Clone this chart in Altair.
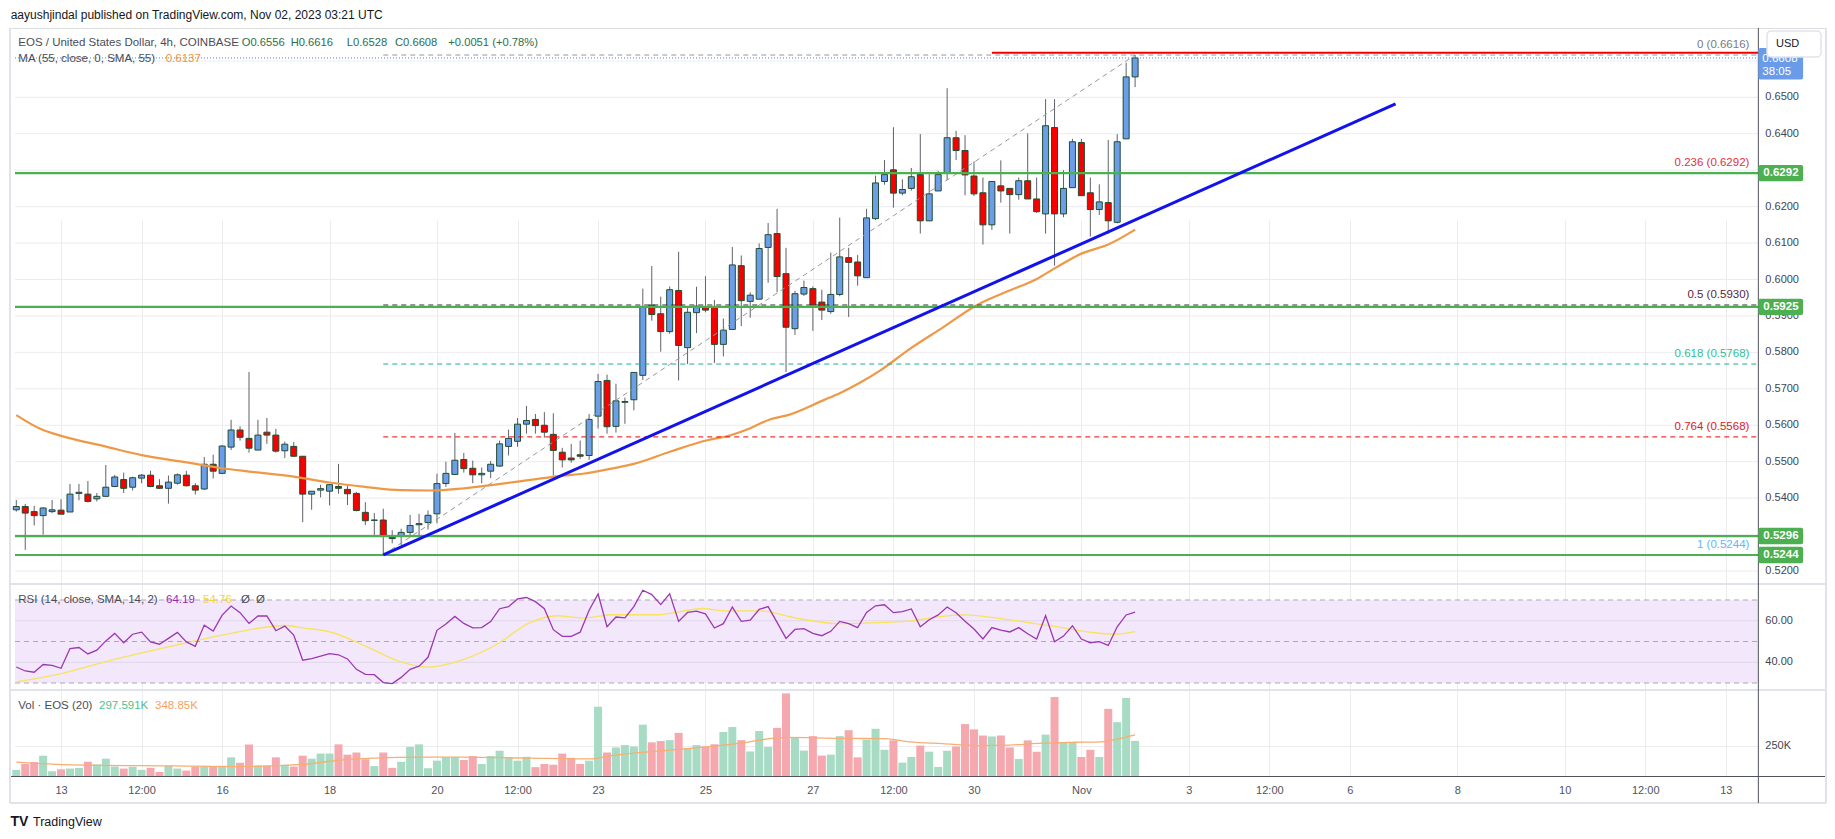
import altair as alt
import pandas as pd

FONT = "Liberation Sans"

# ---------------- data ----------------
# 4h candles, index 1 = 2023-10-12 04:00 UTC ... index 126 = 2023-11-02 00:00 UTC
OPEN = [0.5368,0.5377,0.5363,0.5352,0.5363,0.5367,0.5362,0.5413,0.5411,0.5398,
        0.5405,0.5432,0.5451,0.5430,0.5455,0.5463,0.5434,0.5427,0.5441,0.5463,
        0.5434,0.5425,0.5493,0.5468,0.5540,0.5587,0.5564,0.5532,0.5581,0.5573,
        0.5530,0.5542,0.5515,0.5411,0.5422,0.5419,
        0.5432,0.5424,0.5413,0.5361,0.5339,0.5340,0.5293,0.5295,0.5306,0.5327,
        0.5333,0.5357,0.5440,0.5465,0.5506,0.5482,0.5464,0.5474,0.5488,0.5542,
        0.5556,0.5603,0.5616,0.5600,0.5575,0.5526,0.5510,0.5519,0.5517,0.5625,0.5723,
        0.5597,0.5663,0.5670,0.5737,0.5930,0.5906,0.5857,0.5970,0.5813,0.5909,
        0.5923,0.5923,0.5822,0.5863,0.6038,0.5940,0.5946,0.6088,0.6126,0.6016,
        0.5865,0.5960,0.5975,0.5938,0.5912,0.5959,0.6060,0.6048,0.6005,0.6167,
        0.6269,0.6301,0.6237,0.6250,0.6288,0.6161,0.6243,0.6292,0.6389,0.6354,
        0.6284,0.6238,0.6150,0.6257,0.6250,0.6233,0.6271,0.6221,0.6180,0.6417,
        0.6180,0.6252,0.6376,0.6238,0.6192,0.6211,0.6157,0.6386,0.6556]
HIGH = [0.5395,0.5384,0.5379,0.5375,0.5395,0.5397,0.5439,0.5439,0.5447,0.5414,
        0.5491,0.5464,0.5470,0.5459,0.5466,0.5475,0.5452,0.5462,0.5468,0.5475,
        0.5441,0.5513,0.5519,0.5546,0.5615,0.5597,0.5746,0.5615,0.5620,0.5590,
        0.5555,0.5554,0.5515,0.5419,0.5437,0.5437,
        0.5494,0.5435,0.5417,0.5389,0.5359,0.5371,0.5312,0.5316,0.5354,0.5357,
        0.5366,0.5467,0.5500,0.5579,0.5524,0.5503,0.5484,0.5502,0.5558,0.5588,
        0.5620,0.5653,0.5631,0.5636,0.5633,0.5538,0.5549,0.5558,0.5631,0.5741,0.5739,
        0.5714,0.5676,0.5745,0.5975,0.6037,0.5953,0.5981,0.6076,0.5924,0.5980,
        0.6009,0.5944,0.5893,0.6089,0.6066,0.5965,0.6099,0.6155,0.6194,0.6087,
        0.5969,0.5997,0.5981,0.5972,0.6074,0.6170,0.6087,0.6067,0.6194,0.6285,
        0.6328,0.6418,0.6275,0.6306,0.6399,0.6289,0.6298,0.6525,0.6408,0.6396,
        0.6324,0.6280,0.6269,0.6327,0.6250,0.6280,0.6401,0.6280,0.6495,0.6495,
        0.6300,0.6386,0.6386,0.6280,0.6261,0.6383,0.6399,0.6595,0.6616]
LOW = [0.5363,0.5258,0.5325,0.5300,0.5359,0.5356,0.5362,0.5394,0.5388,0.5391,
       0.5403,0.5430,0.5414,0.5421,0.5441,0.5430,0.5425,0.5385,0.5437,0.5432,
       0.5410,0.5422,0.5454,0.5466,0.5532,0.5558,0.5525,0.5532,0.5549,0.5525,
       0.5510,0.5513,0.5334,0.5368,0.5402,0.5380,
       0.5412,0.5381,0.5364,0.5326,0.5297,0.5244,0.5276,0.5271,0.5295,0.5297,
       0.5314,0.5331,0.5431,0.5465,0.5470,0.5441,0.5441,0.5455,0.5486,0.5517,
       0.5541,0.5577,0.5577,0.5566,0.5462,0.5484,0.5497,0.5508,0.5505,0.5591,0.5577,
       0.5580,0.5604,0.5641,0.5724,0.5887,0.5802,0.5851,0.5723,0.5768,0.5853,
       0.5910,0.5771,0.5789,0.5863,0.5872,0.5895,0.5946,0.5991,0.5965,0.5746,
       0.5848,0.5955,0.5859,0.5889,0.5906,0.5954,0.5897,0.5983,0.6005,0.6163,
       0.6260,0.6197,0.6231,0.6244,0.6126,0.6161,0.6243,0.6273,0.6328,0.6231,
       0.6229,0.6096,0.6136,0.6211,0.6126,0.6219,0.6221,0.6183,0.6126,0.6038,
       0.6171,0.6252,0.6230,0.6118,0.6177,0.6126,0.6154,0.6386,0.6528]
CLOSE = [0.5377,0.5359,0.5352,0.5373,0.5368,0.5356,0.5411,0.5416,0.5391,0.5405,
         0.5430,0.5458,0.5427,0.5456,0.5463,0.5432,0.5427,0.5444,0.5464,0.5434,
         0.5422,0.5493,0.5474,0.5543,0.5587,0.5567,0.5537,0.5573,0.5573,0.5529,
         0.5548,0.5515,0.5411,0.5419,0.5426,0.5437,
         0.5427,0.5412,0.5366,0.5338,0.5340,0.5297,0.5289,0.5306,0.5325,0.5330,
         0.5353,0.5440,0.5468,0.5504,0.5481,0.5464,0.5468,0.5493,0.5549,0.5564,
         0.5603,0.5613,0.5599,0.5581,0.5531,0.5505,0.5505,0.5515,0.5616,0.5720,0.5596,
         0.5667,0.5665,0.5745,0.5925,0.5904,0.5857,0.5972,0.5819,0.5910,0.5927,
         0.5916,0.5822,0.5861,0.6040,0.5942,0.5957,0.6085,0.6123,0.6008,0.5869,
         0.5961,0.5978,0.5930,0.5916,0.5959,0.6062,0.6047,0.6010,0.6169,0.6265,
         0.6288,0.6237,0.6247,0.6282,0.6161,0.6235,0.6288,0.6389,0.6354,0.6287,
         0.6235,0.6150,0.6269,0.6243,0.6233,0.6271,0.6221,0.6186,0.6422,0.6180,
         0.6250,0.6378,0.6230,0.6192,0.6213,0.6161,0.6378,0.6556,0.6608]
VOLUME_K = [52,103,118,172,40,57,63,69,121,98,147,80,63,78,52,69,34,86,63,46,
            80,80,80,86,158,112,267,89,86,158,95,80,172,147,190,190,
            268,181,199,142,84,199,69,120,247,268,66,130,160,160,136,169,102,169,
            214,160,130,163,75,102,96,190,154,102,130,587,199,
            242,262,250,435,285,296,304,365,238,262,250,269,373,415,304,208,381,246,
            408,700,327,215,338,173,181,338,388,158,308,400,
            222,302,113,161,258,206,77,214,250,440,395,343,335,343,242,145,302,206,
            351,669,282,282,161,222,161,569,456,661,297.6]
RSI = [37.7,35.8,35.2,38.9,38.5,37.1,46.6,47.1,44.0,45.8,50.3,53.9,49.4,53.5,54.5,
       49.8,48.7,51.5,54.4,49.8,47.7,57.9,55.0,62.7,67.1,63.9,58.7,62.3,62.3,55.2,
       57.4,53.1,41.0,41.8,42.9,44.2,
       43.6,41.6,36.6,34.2,34.0,30.2,29.7,32.7,36.6,38.1,42.4,55.4,58.4,62.1,58.7,
       56.6,56.7,59.6,65.8,66.8,70.5,71.2,69.2,65.8,55.7,52.5,52.5,54.5,65.1,72.9,57.1,
       61.8,61.4,66.8,74.7,72.6,67.8,73.0,59.7,64.0,64.6,63.3,56.5,58.6,66.6,59.7,
       60.3,65.5,66.8,59.2,51.5,55.8,56.2,53.9,52.8,54.9,59.7,58.6,56.7,64.0,67.2,
       67.7,63.9,64.4,65.7,57.1,60.5,62.8,66.6,63.9,59.8,56.0,51.2,56.7,55.5,54.6,
       56.7,53.7,51.2,62.5,49.9,52.6,57.6,51.2,49.4,49.9,48.1,57.1,62.8,64.19]

MA_IDX = [1,3.8,6,10.9,15,20,24,27,32,36,40,44,47.3,51,54.7,58.4,62.1,64.3,67.5,70,
          74.1,78.2,80.4,83,85.2,87.1,91.2,93,95.2,97.5,100.8,104.5,108.2,111.9,114.9,
          117.1,120,123,126]
MA_VAL = [0.5628,0.5589,0.5571,0.5542,0.5518,0.5498,0.5482,0.5473,0.5459,0.5443,0.5431,
          0.5422,0.5421,0.5427,0.5438,0.5450,0.5462,0.5467,0.5481,0.5494,0.5528,0.5559,
          0.5570,0.5592,0.5616,0.5627,0.5669,0.5688,0.5716,0.5750,0.5809,0.5868,0.5928,
          0.5969,0.6000,0.6032,0.6071,0.6096,0.6137]
RSI_SMA_IDX = [1,6,10.9,15,20,25,31,33,36,40,43.7,47,51,54.7,58.4,61.4,64.3,67.5,72.6,
               77.8,80,84.1,88.2,93,98,100.8,104.5,107.1,110,113.7,117.4,121.1,123.7,126]
RSI_SMA_VAL = [30.5,34.5,40.2,44.5,49.4,53.9,57.7,56.6,54.7,47.8,40.6,37.7,41.4,48.7,59.1,
               62.4,61.3,62.9,62.9,65.9,64.8,64.8,61.2,58.6,59.2,59.8,62.1,62.8,61.6,59.4,
               57.1,54.4,53.5,54.76]
VOL_MA_IDX = [1,7.2,18.5,26,33.3,36,43.7,51,58.4,65,67.5,74.6,81.3,87.1,93,98,100.8,104.5,
              108.2,111.9,115.6,119.3,122.2,124.1,126]
VOL_MA_VAL = [118,95,86,80,100,125,157,160,151,145,173,223,273,327,319,317,290,274,258,262,
              278,286,290,314,348.85]

TIME_TICK_IDX = [6,15,24,36,48,57,66,78,90,99,108,120,132,141,150,162,174,183,192]
TIME_TICK_LABELS = ["13","12:00","16","18","20","12:00","23","25","27","12:00","30","Nov",
                    "3","12:00","6","8","10","12:00","13"]
PRICE_GRID = [0.52,0.53,0.54,0.55,0.56,0.57,0.58,0.59,0.60,0.61,0.62,0.63,0.64,0.65,0.66]
PRICE_LABELS = [0.52,0.53,0.54,0.55,0.56,0.57,0.58,0.59,0.60,0.61,0.62,0.63,0.64,0.65]
RSI_TICKS = [60, 40]
RSI_DASHED = [70, 50, 30]
VOL_TICKS_K = [250]

FIB_RATIOS = ["0", "0.236", "0.5", "0.618", "0.764", "1"]
FIB_PRICES = [0.6616, 0.6292, 0.5930, 0.5768, 0.5568, 0.5244]
SUPPORT_LEVELS = [0.6292, 0.5925, 0.5296, 0.5244]
SWING_LOW_IDX, SWING_LOW = 42, 0.5244
SWING_HIGH_IDX, SWING_HIGH = 126, 0.6616
TREND_END_IDX, TREND_END = 155.1, 0.6482
RESIST_START_IDX, RESIST = 110, 0.6622
LAST_PRICE = 0.6608

HEADER = "aayushjindal published on TradingView.com, Nov 02, 2023 03:21 UTC"
SYMBOL = "EOS / United States Dollar, 4h, COINBASE"
OHLC_TXT = ["O0.6556", "H0.6616", "L0.6528", "C0.6608", "+0.0051 (+0.78%)"]
MA_TXT, MA_LAST = "MA (55, close, 0, SMA, 55)", "0.6137"
RSI_TXT, RSI_LAST, RSI_SMA_LAST = "RSI (14, close, SMA, 14, 2)", "64.19", "54.76"
VOL_TXT, VOL_LAST, VOL_MA_LAST = "Vol \u00b7 EOS (20)", "297.591K", "348.85K"

# ---------------- layout constants ----------------
PX = 9.0                      # pixels per 4h candle
W, H = 1816, 748
X0 = 0.856
X1 = X0 + W / PX
AXIS_IDX = X0 + 1753 / PX     # position of the price axis line
FIB_LABEL_IDX = X0 + 1744 / PX
PRICE_DOMAIN = [0.516438, 0.669018]
PRICE_RANGE = [556, 0]
PPU = 556 / (PRICE_DOMAIN[1] - PRICE_DOMAIN[0])
RSI_DOMAIN, RSI_RANGE = [26.63, 77.71], [662, 556]
VOL_DOMAIN, VOL_RANGE = [0, 728.8], [748, 662]

GRID = "#ececef"
TXT = "#42454f"
UP, DOWN, BORDER, WICK = "#6b9de9", "#f80000", "#214d30", "#5f626b"
VUP, VDOWN = "#a7dbc4", "#f5a8ae"

XS = alt.Scale(domain=[X0, X1], nice=False, zero=False)
lab_js = "[" + ",".join("'%s'" % s for s in TIME_TICK_LABELS) + "]"
idx_js = "[" + ",".join(str(v) for v in TIME_TICK_IDX) + "]"
XA = alt.Axis(values=TIME_TICK_IDX, labelExpr=f"{lab_js}[indexof({idx_js}, datum.value)]",
              grid=True, gridColor=GRID, gridWidth=1, ticks=False, domain=True,
              domainColor="#50535e", domainWidth=1, labelColor="#50535e", labelFont=FONT,
              labelFontSize=11, labelPadding=8, title=None, labelFlush=False)
PS = alt.Scale(domain=PRICE_DOMAIN, range=PRICE_RANGE, nice=False, zero=False)
RS = alt.Scale(domain=RSI_DOMAIN, range=RSI_RANGE, nice=False, zero=False)
VS = alt.Scale(domain=VOL_DOMAIN, range=VOL_RANGE, nice=False, zero=False)


def X(f):
    return alt.X(f, type="quantitative", scale=XS, axis=XA)


def XD(v):
    return alt.XDatum(v, type="quantitative", scale=XS, axis=XA)


def Y(f, sc):
    return alt.Y(f, type="quantitative", scale=sc, axis=None)


def one(**kw):
    return pd.DataFrame({k: [v] for k, v in kw.items()})


def txt(text, x, y, color, size=11, weight="normal", align="left", font=FONT):
    return alt.Chart(one(t=text)).mark_text(
        align=align, baseline="middle", font=font, fontSize=size, color=color,
        fontWeight=weight).encode(x=alt.value(x), y=alt.value(y), text="t:N")


def hline(price, start, color, width=1, dash=None, sc=PS, end=AXIS_IDX):
    kw = dict(color=color, strokeWidth=width)
    if dash:
        kw["strokeDash"] = dash
    return alt.Chart(one(p=price)).mark_rule(**kw).encode(
        x=XD(start), x2=alt.X2Datum(end), y=Y("p", sc))


candles = pd.DataFrame({"idx": list(range(1, len(OPEN) + 1)), "open": OPEN, "high": HIGH,
                        "low": LOW, "close": CLOSE, "vol": VOLUME_K, "rsi": RSI})
up_cond = "datum.close >= datum.open"

layers = []

# price grid
layers.append(alt.Chart(pd.DataFrame({"p": PRICE_GRID})).mark_rule(color=GRID, strokeWidth=1)
              .encode(x=XD(X0), x2=alt.X2Datum(AXIS_IDX), y=Y("p", PS)))
# RSI band and guides
layers.append(alt.Chart(one(a=30, b=70)).mark_rect(color="#f3e7fb")
              .encode(x=XD(X0), x2=alt.X2Datum(AXIS_IDX), y=Y("a", RS), y2=alt.Y2("b")))
layers.append(alt.Chart(pd.DataFrame({"r": RSI_TICKS})).mark_rule(color="#e0d6ea", strokeWidth=1)
              .encode(x=XD(X0), x2=alt.X2Datum(AXIS_IDX), y=Y("r", RS)))
layers.append(alt.Chart(pd.DataFrame({"r": RSI_DASHED})).mark_rule(color="#a9abb3", strokeWidth=1,
                                                                  strokeDash=[5, 4])
              .encode(x=XD(X0), x2=alt.X2Datum(AXIS_IDX), y=Y("r", RS)))
# volume grid
layers.append(alt.Chart(pd.DataFrame({"v": VOL_TICKS_K})).mark_rule(color=GRID, strokeWidth=1)
              .encode(x=XD(X0), x2=alt.X2Datum(AXIS_IDX), y=Y("v", VS)))

# candles
layers.append(alt.Chart(candles).mark_rule(color=WICK, strokeWidth=1)
              .encode(x=X("idx"), y=Y("low", PS), y2=alt.Y2("high")))
layers.append(alt.Chart(candles).mark_bar(size=6, stroke=BORDER, strokeWidth=1)
              .encode(x=X("idx"), y=Y("open", PS), y2=alt.Y2("close"),
                      color=alt.condition(up_cond, alt.value(UP), alt.value(DOWN))))
# moving average
layers.append(alt.Chart(pd.DataFrame({"i": MA_IDX, "v": MA_VAL}))
              .mark_line(color="#ef9845", strokeWidth=2.2, interpolate="monotone")
              .encode(x=X("i"), y=Y("v", PS)))

# Fibonacci retracement
FIB_LINE = ["#9598a1", "#f23645", "#2f2a2e", "#22ab94", "#f20000", "#2962ff"]
FIB_LABEL = ["#787b86", "#e0303d", "#5a2637", "#2bbf97", "#d9202a", "#64b5f6"]
for r, p, lc, tc in zip(FIB_RATIOS, FIB_PRICES, FIB_LINE, FIB_LABEL):
    layers.append(hline(p, SWING_LOW_IDX, lc, 1, [5, 4]))
    layers.append(alt.Chart(one(p=p, t=f"{r} ({p:.4f})"))
                  .mark_text(align="right", baseline="middle", dy=-10, font=FONT,
                             fontSize=11.5, color=tc)
                  .encode(x=XD(FIB_LABEL_IDX), y=Y("p", PS), text="t:N"))
layers.append(alt.Chart(pd.DataFrame({"i": [SWING_LOW_IDX, SWING_HIGH_IDX],
                                      "p": [SWING_LOW, SWING_HIGH]}))
              .mark_line(color="#9598a1", strokeWidth=1, strokeDash=[5, 4])
              .encode(x=X("i"), y=Y("p", PS)))

# horizontal support lines
for lv in SUPPORT_LEVELS:
    layers.append(hline(lv, X0, "#4caf50", 2.2))
layers.append(hline(RESIST, RESIST_START_IDX, "#f00000", 2))
layers.append(hline(LAST_PRICE, X0, "#4f7fe8", 1, [1, 2]))

# rising trend line
layers.append(alt.Chart(pd.DataFrame({"i": [SWING_LOW_IDX, TREND_END_IDX],
                                      "p": [SWING_LOW, TREND_END]}))
              .mark_line(color="#1212ee", strokeWidth=3)
              .encode(x=X("i"), y=Y("p", PS)))

# RSI
layers.append(alt.Chart(pd.DataFrame({"i": RSI_SMA_IDX, "v": RSI_SMA_VAL}))
              .mark_line(color="#f7e35c", strokeWidth=1.3, interpolate="monotone")
              .encode(x=X("i"), y=Y("v", RS)))
layers.append(alt.Chart(candles).mark_line(color="#9c37b4", strokeWidth=1.3)
              .encode(x=X("idx"), y=Y("rsi", RS)))

# volume
layers.append(alt.Chart(candles).mark_bar(size=8)
              .encode(x=X("idx"), y=Y("vol", VS),
                      color=alt.condition(up_cond, alt.value(VUP), alt.value(VDOWN))))
layers.append(alt.Chart(pd.DataFrame({"i": VOL_MA_IDX, "v": VOL_MA_VAL}))
              .mark_line(color="#f7ae72", strokeWidth=1.3, interpolate="monotone")
              .encode(x=X("i"), y=Y("v", VS)))

# pane separators, frame, axis line
FRAME = "#e0e3eb"
for yy in (556, 662):
    layers.append(alt.Chart(one(a=0)).mark_rule(color=FRAME, strokeWidth=2)
                  .encode(x=alt.value(0), x2=alt.value(W), y=alt.value(yy)))
layers.append(alt.Chart(one(a=0)).mark_rule(color=FRAME, strokeWidth=2)
              .encode(x=alt.value(0), x2=alt.value(W), y=alt.value(775)))
for xx in (0, W):
    layers.append(alt.Chart(one(a=0)).mark_rule(color=FRAME, strokeWidth=2)
                  .encode(x=alt.value(xx), y=alt.value(0), y2=alt.value(775)))
layers.append(alt.Chart(one(a=0)).mark_rule(color="#50535e", strokeWidth=1)
              .encode(x=XD(AXIS_IDX), y=alt.value(0), y2=alt.value(775)))

# right axis labels
layers.append(alt.Chart(pd.DataFrame({"p": PRICE_LABELS}))
              .mark_text(align="left", baseline="middle", dx=7, font=FONT, fontSize=11, color=TXT)
              .encode(x=XD(AXIS_IDX), y=Y("p", PS), text=alt.Text("p:Q", format=".4f")))
layers.append(alt.Chart(pd.DataFrame({"r": RSI_TICKS}))
              .mark_text(align="left", baseline="middle", dx=7, font=FONT, fontSize=11, color=TXT)
              .encode(x=XD(AXIS_IDX), y=Y("r", RS), text=alt.Text("r:Q", format=".2f")))
layers.append(alt.Chart(pd.DataFrame({"v": VOL_TICKS_K}))
              .transform_calculate(t="datum.v + 'K'")
              .mark_text(align="left", baseline="middle", dx=7, font=FONT, fontSize=11, color=TXT)
              .encode(x=XD(AXIS_IDX), y=Y("v", VS), text="t:N"))

# green price tags
HALF = 8.2 / PPU
tags = pd.DataFrame({"p": SUPPORT_LEVELS})
layers.append(alt.Chart(tags)
              .transform_calculate(top=f"datum.p + {HALF}", bot=f"datum.p - {HALF}")
              .mark_rect(color="#4caf50", cornerRadius=2)
              .encode(x=XD(AXIS_IDX), x2=alt.X2Datum(AXIS_IDX + 45 / PX),
                      y=Y("top", PS), y2=alt.Y2("bot")))
layers.append(alt.Chart(tags)
              .mark_text(align="left", baseline="middle", dx=5, font=FONT, fontSize=11.5,
                         fontWeight="bold", color="white")
              .encode(x=XD(AXIS_IDX), y=Y("p", PS), text=alt.Text("p:Q", format=".4f")))

# last price tag with countdown
layers.append(alt.Chart(one(top=LAST_PRICE + 10 / PPU, bot=LAST_PRICE - 21.5 / PPU))
              .mark_rect(color="#6a9be8", cornerRadius=2)
              .encode(x=XD(AXIS_IDX), x2=alt.X2Datum(AXIS_IDX + 45 / PX),
                      y=Y("top", PS), y2=alt.Y2("bot")))
layers.append(alt.Chart(one(p=LAST_PRICE, t=f"{LAST_PRICE:.4f}"))
              .mark_text(align="left", baseline="middle", dx=4, dy=1, font=FONT, fontSize=11.5,
                         color="white")
              .encode(x=XD(AXIS_IDX), y=Y("p", PS), text="t:N"))
layers.append(alt.Chart(one(p=LAST_PRICE, t="38:05"))
              .mark_text(align="left", baseline="middle", dx=4, dy=14.5, font=FONT, fontSize=11.5,
                         color="white")
              .encode(x=XD(AXIS_IDX), y=Y("p", PS), text="t:N"))

# USD button
layers.append(alt.Chart(one(a=0)).mark_rect(fill="white", stroke=FRAME, strokeWidth=1.5,
                                            cornerRadius=4)
              .encode(x=alt.value(1757), x2=alt.value(1811), y=alt.value(3), y2=alt.value(29)))
layers.append(txt("USD", 1766, 15.5, "#131722", 11))

# legends and header
LEG = "#4a4d57"
VALC = "#2c6e4f"
layers.append(txt(HEADER, 0.7, -13, "#131722", 12))
layers.append(txt(SYMBOL, 8.3, 14.7, LEG, 11.5))
for s, xx in zip(OHLC_TXT, [231.7, 280.7, 336.7, 385.0, 438.3]):
    layers.append(txt(s, xx, 14.7, VALC, 11.2))
layers.append(txt(MA_TXT, 8.3, 31, LEG, 11.5))
layers.append(txt(MA_LAST, 155.7, 31, "#f2913d", 11.5))
layers.append(txt(RSI_TXT, 8.3, 572, LEG, 11.5))
layers.append(txt(RSI_LAST, 156, 572, "#9c27b0", 11.5))
layers.append(txt(RSI_SMA_LAST, 193, 572, "#f2d630", 11.5))
layers.append(txt("\u00d8", 231, 572, LEG, 11.5))
layers.append(txt("\u00d8", 246, 572, LEG, 11.5))
layers.append(txt(VOL_TXT, 8.3, 677.7, LEG, 11.5))
layers.append(txt(VOL_LAST, 89, 677.7, "#4fbf8a", 11.5))
layers.append(txt(VOL_MA_LAST, 145, 677.7, "#f7a15e", 11.5))

# footer logo
layers.append(txt("TV", 0.5, 794, "#131722", 14, "bold"))
layers.append(txt("TradingView", 23, 794, "#131722", 12.5))

chart = (alt.layer(*layers)
         .resolve_scale(y="independent")
         .properties(width=W, height=H,
                     padding={"left": 2, "top": 20, "right": 1, "bottom": 58},
                     autosize=alt.AutoSizeParams(type="none"))
         .configure_view(stroke=FRAME, strokeWidth=1)
         .configure(background="white"))

chart.save("out.html", embed_options={"renderer": "svg", "actions": False})
